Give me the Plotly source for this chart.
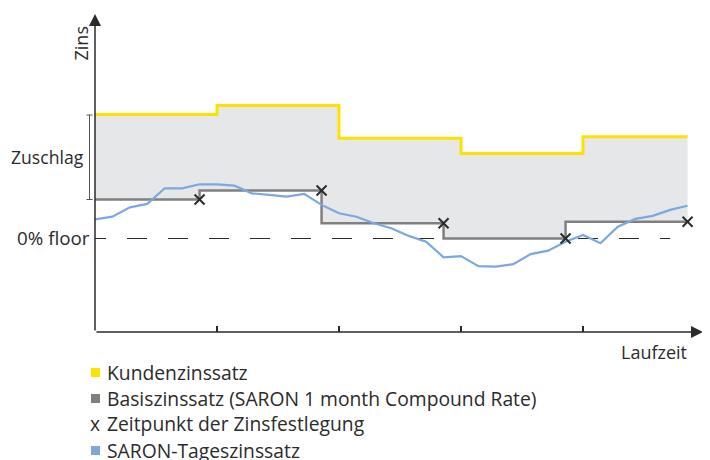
import plotly.graph_objects as go

# ---------------- data ----------------
weeks = [0, 1, 2, 3, 4, 5, 6, 7, 8, 9, 10, 11, 12, 13, 14, 15, 16, 17, 18, 19,
         20, 21, 22, 23, 24, 25, 26, 27, 28, 29, 30, 31, 32, 33, 34]
saron_daily = [0.96, 1.09, 1.56, 1.73, 2.51, 2.51, 2.71, 2.71, 2.64, 2.26, 2.18,
               2.09, 2.23, 1.68, 1.26, 1.09, 0.76, 0.51, 0.13, -0.16, -0.94,
               -0.88, -1.38, -1.41, -1.28, -0.78, -0.61, -0.16, 0.18, -0.24,
               0.59, 0.98, 1.13, 1.43, 1.64]

fixing_weeks = [6, 13, 20, 27, 34]
base_rate = [1.95, 2.40, 0.76, 0.00, 0.84]

period_starts = [0, 7, 14, 21, 28]
period_end = 34
customer_rate = [6.20, 6.65, 5.01, 4.25, 5.09]

tick_weeks = [7, 14, 21, 28]
floor_level = 0.0

legend_labels = ["Kundenzinssatz",
                 "Basiszinssatz (SARON 1 month Compound Rate)",
                 "Zeitpunkt der Zinsfestlegung",
                 "SARON-Tageszinssatz"]

# ---------------- styling ----------------
YELLOW = "#FFE100"
GRAY = "#808080"
BLUE = "#7BA8DE"
FILL = "#E6E7E9"
DARK = "#2b2b2b"
FONT = "Open Sans"

OFF = 8                      # page body margin of the browser
W, H = 710 - OFF, 460 - OFF
# plot area in page pixels: x 95..705, y 10..332
L, T = 95 - OFF, 10 - OFF
R = W - (705 - OFF)
B = H - (332 - OFF)
XR = [0, 35]
YR = [-4.675, 11.425]
PW, PH = W - L - R, H - T - B

def px_x(px):
    return (px - OFF - L) / PW

def px_y(py):
    return (H - B - (py - OFF)) / PH

def data_x(px):
    return XR[0] + px_x(px) * (XR[1] - XR[0])

def data_y(py):
    return YR[0] + px_y(py) * (YR[1] - YR[0])

fig = go.Figure()

base_x = [0] + fixing_weeks
base_y = base_rate + [base_rate[-1]]
cust_x = period_starts + [period_end]
cust_y = customer_rate + [customer_rate[-1]]

# reference path for the fill
fig.add_trace(go.Scatter(x=base_x, y=base_y, mode="lines", line_shape="hv",
                         line=dict(width=0, color=GRAY), hoverinfo="skip",
                         showlegend=False))
fig.add_trace(go.Scatter(x=cust_x, y=cust_y, mode="lines", line_shape="hv",
                         line=dict(width=3, color=YELLOW), fill="tonexty",
                         fillcolor=FILL, name=legend_labels[0], showlegend=False))
fig.add_trace(go.Scatter(x=base_x, y=base_y, mode="lines", line_shape="hv",
                         line=dict(width=2.5, color=GRAY), name=legend_labels[1],
                         showlegend=False))
fig.add_trace(go.Scatter(x=weeks, y=saron_daily, mode="lines",
                         line=dict(width=2.2, color=BLUE), name=legend_labels[3],
                         showlegend=False))
fig.add_trace(go.Scatter(x=fixing_weeks, y=base_rate, mode="markers",
                         marker=dict(symbol="x-thin", size=10,
                                     line=dict(width=2, color=DARK)),
                         name=legend_labels[2], cliponaxis=False,
                         showlegend=False))

# 0% floor dashed line
fig.add_shape(type="line", xref="x", yref="y", x0=data_x(86), x1=33,
              y0=floor_level, y1=floor_level, layer="below",
              line=dict(color=DARK, width=1.2, dash="20px,21px"))

# Zuschlag bracket
bx = px_x(89.5)
fig.add_shape(type="line", xref="paper", yref="paper", x0=bx, x1=bx,
              y0=px_y(115), y1=px_y(199.5), line=dict(color="#555", width=1))
for yy in (115, 199.5):
    fig.add_shape(type="line", xref="paper", yref="paper", x0=px_x(86.5),
                  x1=px_x(92.5), y0=px_y(yy), y1=px_y(yy),
                  line=dict(color="#555", width=1))

# axes with arrows
x_bottom = YR[0]
fig.add_annotation(x=0, y=data_y(14), ax=0, ay=x_bottom, xref="x", yref="y",
                   axref="x", ayref="y", text="", showarrow=True, arrowhead=2,
                   arrowsize=1.6, arrowwidth=1.5, arrowcolor=DARK,
                   standoff=0, startstandoff=0)
fig.add_annotation(x=data_x(703), y=x_bottom, ax=0, ay=x_bottom, xref="x",
                   yref="y", axref="x", ayref="y", text="", showarrow=True,
                   arrowhead=2, arrowsize=1.6, arrowwidth=1.5, arrowcolor=DARK,
                   standoff=0, startstandoff=0)

def label(text, x, y, xanchor="left", yanchor="middle", angle=0, size=18):
    fig.add_annotation(x=px_x(x), y=px_y(y), xref="paper", yref="paper",
                       text=text, showarrow=False, xanchor=xanchor,
                       yanchor=yanchor, textangle=angle,
                       font=dict(family=FONT, size=size, color=DARK))

label("Zins", 80, 43.5, xanchor="center", angle=-90)
label("Zuschlag", 86, 157, xanchor="right", size=17.6)
label("0% floor", 92, 238, xanchor="right", size=18.8)
label("Laufzeit", 689, 352, xanchor="right")

# legend
rows = [372, 398, 424, 450]
sq_colors = [YELLOW, GRAY, None, BLUE]
for lab, yy, col in zip(legend_labels, rows, sq_colors):
    label(lab, 105, yy, size=19.3)
    if col:
        fig.add_shape(type="rect", xref="paper", yref="paper",
                      x0=px_x(91), x1=px_x(100), y0=px_y(yy + 5),
                      y1=px_y(yy - 4), fillcolor=col, line=dict(width=0))
    else:
        label("x", 87.5, yy - 1, size=19.3)

fig.update_layout(
    width=W, height=H, margin=dict(l=L, r=R, t=T, b=B),
    paper_bgcolor="white", plot_bgcolor="white",
    xaxis=dict(range=XR, showgrid=False, zeroline=False, showline=False,
               tickvals=tick_weeks, ticks="inside", ticklen=6, tickwidth=1.5,
               tickcolor=DARK, showticklabels=False, fixedrange=True),
    yaxis=dict(range=YR, showgrid=False, zeroline=False, showline=False,
               showticklabels=False, ticks="", fixedrange=True),
    showlegend=False,
)

fig.write_html("out.html")
